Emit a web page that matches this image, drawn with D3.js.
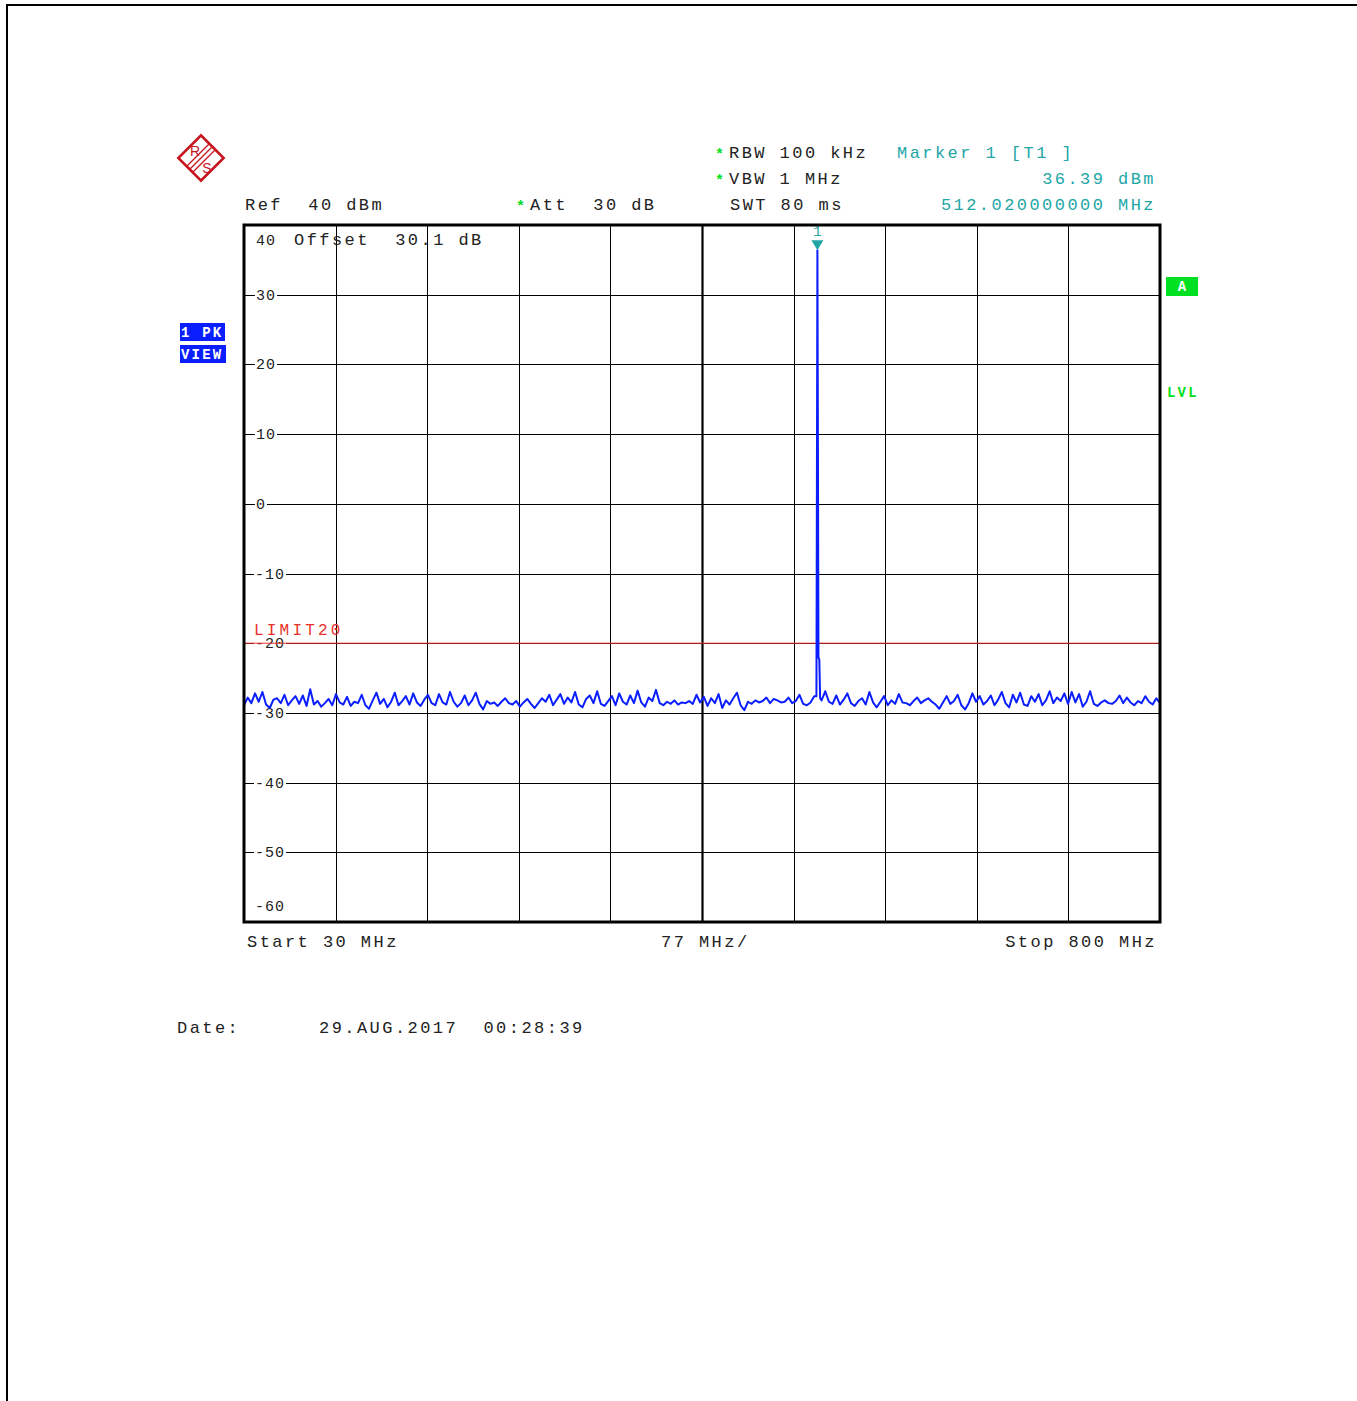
<!DOCTYPE html>
<html>
<head>
<meta charset="utf-8">
<script src="https://cdn.jsdelivr.net/npm/d3@7"></script>
<style>
  html, body { margin: 0; padding: 0; background: #fff; }
  svg text { font-family: "Liberation Mono", "DejaVu Sans Mono", monospace; }
</style>
</head>
<body>
<div id="chart"></div>
<script>
// ── Sweep settings ───────────────────────────────────────────
const START_MHZ = 30;
const STOP_MHZ  = 800;
const REF_DBM   = 40;
const BOTTOM_DBM = -60;
const LIMIT_DBM = -20;

const LEVEL_TICKS = [40, 30, 20, 10, 0, -10, -20, -30, -40, -50, -60];

// noise floor left to right (dBm), one value per sweep bin
const NOISE_DBM = [
  -28.9,-27.8,-28.6,-27.2,-28.4,-27.0,-28.8,-29.3,-28.1,-27.9,-28.6,-27.4,-28.9,-28.2,-27.6,-28.7,-27.5,-29.0,-26.6,-28.8,
  -28.3,-29.1,-28.6,-28.0,-28.9,-27.3,-28.5,-28.8,-27.7,-29.0,-28.4,-28.6,-27.4,-28.9,-29.4,-28.2,-27.1,-28.7,-28.0,-29.2,
  -28.4,-27.1,-28.9,-28.3,-27.6,-28.8,-27.2,-28.5,-29.0,-28.1,-27.4,-28.6,-28.9,-27.3,-28.5,-28.8,-27.0,-28.4,-29.1,-28.6,
  -27.5,-28.9,-28.2,-27.1,-28.7,-29.5,-28.3,-28.7,-28.5,-29.0,-28.4,-27.9,-28.6,-28.8,-28.3,-29.1,-28.5,-28.0,-28.7,-29.3,
  -28.6,-27.9,-28.4,-27.4,-28.9,-28.1,-27.3,-28.7,-27.8,-28.5,-27.0,-28.8,-29.2,-28.0,-27.5,-28.6,-26.9,-28.7,-29.0,-28.3,
  -27.6,-28.9,-27.2,-28.4,-28.8,-27.5,-28.6,-26.8,-28.5,-29.1,-27.8,-28.3,-26.7,-28.6,-28.9,-28.4,-28.7,-28.2,-28.8,-28.5,
  -28.6,-28.3,-28.7,-27.4,-28.5,-27.7,-29.0,-27.9,-28.6,-27.3,-29.3,-28.2,-28.8,-27.9,-27.1,-28.9,-29.6,-28.4,-28.7,-28.2,
  -28.5,-28.3,-27.8,-28.6,-28.0,-28.2,-28.5,-28.4,-27.8,-28.6,-28.3,-27.4,-28.7,-28.9,-28.5,-27.6,-28.8,-28.2,-26.9,-28.4,
  -28.7,-27.5,-28.8,-28.1,-27.2,-28.6,-29.0,-28.3,-27.9,-28.8,-27.0,-28.5,-29.2,-28.4,-27.6,-28.9,-28.2,-28.7,-27.3,-28.5,
  -28.6,-28.9,-28.3,-27.8,-28.6,-28.2,-27.9,-28.4,-28.8,-29.4,-28.5,-27.6,-28.7,-28.3,-27.4,-28.9,-29.5,-28.6,-27.2,-28.4,
  -27.6,-28.8,-28.3,-27.5,-28.9,-28.1,-27.0,-28.6,-29.2,-27.4,-28.5,-27.1,-28.8,-29.0,-27.6,-28.4,-27.3,-28.9,-28.2,-26.9,
  -28.6,-27.8,-28.3,-27.2,-28.7,-27.0,-28.5,-27.3,-29.1,-28.4,-26.9,-28.7,-29.0,-28.5,-28.2,-28.6,-28.7,-28.3,-27.5,-28.6,
  -27.8,-28.5,-28.9,-28.3,-28.6,-27.6,-28.4,-28.8,-27.9,-28.6
];

// carrier: marker 1 plus the shoulder bins next to it
const PEAK_MHZ = [511.2, 512.02, 512.9, 513.6, 514.3];
const PEAK_DBM = [-27.6, 36.39, -22.1, -22.3, -27.9];

const MARKER_MHZ = 512.02;
const MARKER_DBM = 36.39;

// ── Layout ───────────────────────────────────────────────────
const W = 1357, H = 1401;
const plot = { left: 244, right: 1160, top: 225, bottom: 922 };

const TXT = '#222';
const TEAL = '#22a6a6';
const GREEN = '#00e020';
const BLUE = '#0a1eff';
const RED = '#e8302a';
const LOGO_RED = '#c8141e';

const svg = d3.select('#chart').append('svg')
  .attr('width', W).attr('height', H);

const x = d3.scaleLinear().domain([START_MHZ, STOP_MHZ]).range([plot.left, plot.right]);
const y = d3.scaleLinear().domain([BOTTOM_DBM, REF_DBM]).range([plot.bottom, plot.top]);

// page border
svg.append('line').attr('x1', 7).attr('x2', 7).attr('y1', 4).attr('y2', H)
  .attr('stroke', '#000').attr('stroke-width', 2);
svg.append('line').attr('x1', 6).attr('x2', W).attr('y1', 5).attr('y2', 5)
  .attr('stroke', '#000').attr('stroke-width', 2);

// ── R&S logo ─────────────────────────────────────────────────
const logo = svg.append('g').attr('transform', 'translate(201,158)');
logo.append('rect').attr('x', -16).attr('y', -16).attr('width', 32).attr('height', 32)
  .attr('transform', 'rotate(45)')
  .attr('fill', 'none').attr('stroke', LOGO_RED).attr('stroke-width', 2.6);
[-3, 0, 3].forEach(o => {
  logo.append('line')
    .attr('x1', -11 + o).attr('y1', 11 + o).attr('x2', 11 + o).attr('y2', -11 + o)
    .attr('stroke', LOGO_RED).attr('stroke-width', 1.2);
});
logo.append('text').attr('x', -6).attr('y', -2).attr('text-anchor', 'middle')
  .style('font-family', 'Liberation Sans, sans-serif')
  .attr('font-size', 14).attr('fill', LOGO_RED).text('R');
logo.append('text').attr('x', 6).attr('y', 15).attr('text-anchor', 'middle')
  .style('font-family', 'Liberation Sans, sans-serif')
  .attr('font-size', 14).attr('fill', LOGO_RED).text('S');

// ── Header texts ─────────────────────────────────────────────
function label(xp, yp, str, opts = {}) {
  return svg.append('text')
    .attr('x', xp).attr('y', yp)
    .attr('font-size', opts.size || 17)
    .attr('letter-spacing', opts.ls != null ? opts.ls : 2.45)
    .attr('fill', opts.fill || TXT)
    .attr('text-anchor', opts.anchor || 'start')
    .attr('font-weight', opts.weight || 'normal')
    .style('white-space', 'pre')
    .text(str);
}

label(715, 159, '*', { fill: GREEN, size: 15, ls: 0, weight: 'bold' });
label(729, 158, 'RBW 100 kHz');
label(715, 185, '*', { fill: GREEN, size: 15, ls: 0, weight: 'bold' });
label(729, 184, 'VBW 1 MHz');
label(730, 210, 'SWT 80 ms');
label(245, 210, 'Ref  40 dBm');
label(516, 211, '*', { fill: GREEN, size: 15, ls: 0, weight: 'bold' });
label(530, 210, 'Att  30 dB');

label(897, 158, 'Marker 1 [T1 ]', { fill: TEAL });
label(1156, 184, '36.39 dBm', { fill: TEAL, anchor: 'end' });
label(1156, 210, '512.020000000 MHz', { fill: TEAL, anchor: 'end' });

// ── Grid ─────────────────────────────────────────────────────
const g = svg.append('g');
const freqTicks = d3.range(0, 11).map(i => START_MHZ + i * (STOP_MHZ - START_MHZ) / 10);

g.selectAll('line.v').data(freqTicks.slice(1, -1)).join('line')
  .attr('class', 'v')
  .attr('x1', d => Math.round(x(d)) + 0.5).attr('x2', d => Math.round(x(d)) + 0.5)
  .attr('y1', plot.top).attr('y2', plot.bottom)
  .attr('stroke', '#000')
  .attr('stroke-width', (d, i) => i === 4 ? 2.2 : 1);

g.selectAll('line.h').data(LEVEL_TICKS.slice(1, -1)).join('line')
  .attr('class', 'h')
  .attr('x1', plot.left).attr('x2', plot.right)
  .attr('y1', d => Math.round(y(d)) + 0.5).attr('y2', d => Math.round(y(d)) + 0.5)
  .attr('stroke', '#000').attr('stroke-width', 1);

// level labels sit on the grid lines, with a white patch behind them
LEVEL_TICKS.forEach(v => {
  let yy = y(v) + 5;
  if (v === REF_DBM) yy = y(v) + 20;
  if (v === BOTTOM_DBM) yy = y(v) - 11;
  const str = String(v);
  const xx = v < 0 ? 255 : 256;
  if (v !== REF_DBM && v !== BOTTOM_DBM) {
    g.append('rect')
      .attr('x', xx - 1).attr('y', y(v) - 7)
      .attr('width', str.length * 10 + 2).attr('height', 14)
      .attr('fill', '#fff');
    if (v >= 0) {
      g.append('line').attr('x1', plot.left).attr('x2', 254)
        .attr('y1', Math.round(y(v)) + 0.5).attr('y2', Math.round(y(v)) + 0.5)
        .attr('stroke', '#000');
    }
  }
  g.append('text').attr('x', xx).attr('y', yy)
    .attr('font-size', 15).attr('letter-spacing', 1).attr('fill', TXT)
    .text(str);
});

label(294, 245, 'Offset  30.1 dB');

// ── Limit line ───────────────────────────────────────────────
g.append('line')
  .attr('x1', plot.left).attr('x2', plot.right)
  .attr('y1', y(LIMIT_DBM)).attr('y2', y(LIMIT_DBM))
  .attr('stroke', RED).attr('stroke-width', 1);
label(254, 635, 'LIMIT20', { fill: RED, size: 16, ls: 3.2 });

// ── Trace ────────────────────────────────────────────────────
const step = (STOP_MHZ - START_MHZ) / (NOISE_DBM.length - 1);
const trace = NOISE_DBM.map((v, i) => ({ f: START_MHZ + i * step, v }))
  .filter(d => d.f < PEAK_MHZ[0] || d.f > PEAK_MHZ[PEAK_MHZ.length - 1])
  .concat(PEAK_MHZ.map((f, i) => ({ f, v: PEAK_DBM[i] })))
  .sort((a, b) => a.f - b.f);

svg.append('path')
  .datum(trace)
  .attr('fill', 'none')
  .attr('stroke', BLUE)
  .attr('stroke-width', 2)
  .attr('stroke-linejoin', 'round')
  .attr('d', d3.line().x(d => x(d.f)).y(d => y(d.v)));

// ── Marker ───────────────────────────────────────────────────
const mx = x(MARKER_MHZ), my = y(MARKER_DBM);
svg.append('path')
  .attr('d', `M${mx - 6},${my - 10}L${mx + 6},${my - 10}L${mx},${my}Z`)
  .attr('fill', TEAL);
svg.append('text').attr('x', mx).attr('y', my - 14)
  .attr('text-anchor', 'middle').attr('font-size', 14).attr('fill', TEAL).text('1');

// ── Frame ────────────────────────────────────────────────────
svg.append('rect')
  .attr('x', plot.left).attr('y', plot.top)
  .attr('width', plot.right - plot.left).attr('height', plot.bottom - plot.top)
  .attr('fill', 'none').attr('stroke', '#000').attr('stroke-width', 3);

// ── Side badges ──────────────────────────────────────────────
function badge(bx, by, bw, bh, fill, str) {
  svg.append('rect').attr('x', bx).attr('y', by).attr('width', bw).attr('height', bh).attr('fill', fill);
  svg.append('text').attr('x', bx + 1).attr('y', by + bh - 4)
    .attr('font-size', 14).attr('font-weight', 'bold').attr('fill', '#fff')
    .attr('letter-spacing', 2.2).style('white-space', 'pre').text(str);
}
badge(180, 323, 45, 18, BLUE, '1 PK');
badge(180, 345, 46, 18, BLUE, 'VIEW');

svg.append('rect').attr('x', 1166).attr('y', 277).attr('width', 32).attr('height', 19).attr('fill', GREEN);
svg.append('text').attr('x', 1182).attr('y', 291).attr('text-anchor', 'middle')
  .attr('font-size', 14).attr('font-weight', 'bold').attr('fill', '#fff').text('A');
svg.append('text').attr('x', 1167).attr('y', 397)
  .attr('font-size', 14).attr('font-weight', 'bold').attr('letter-spacing', 2.2)
  .attr('fill', GREEN).text('LVL');

// ── Footer ───────────────────────────────────────────────────
label(247, 947, 'Start 30 MHz');
label(661, 947, '77 MHz/');
label(1157, 947, 'Stop 800 MHz', { anchor: 'end' });

label(177, 1033, 'Date:');
label(319, 1033, '29.AUG.2017  00:28:39');
</script>
</body>
</html>
